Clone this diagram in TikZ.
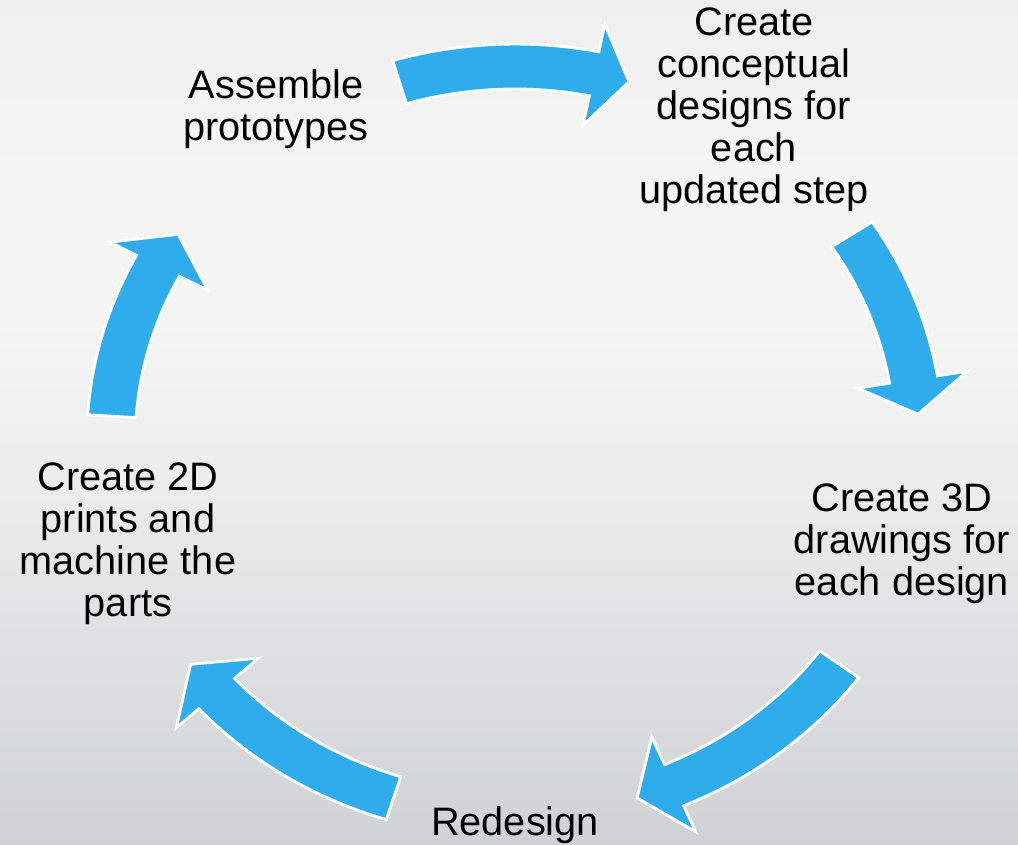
\documentclass[tikz,border=0pt]{standalone}
\usepackage{fontspec}
\setmainfont{Liberation Sans}
\usepackage{tikz}
\usepackage[dvipsnames]{xcolor}
\definecolor{arrowblue}{RGB}{47,172,235}
\definecolor{bgtop}{RGB}{239,239,239}
\definecolor{bglight}{RGB}{245,245,245}
\definecolor{bgmid}{RGB}{234,235,235}
\definecolor{bglow}{RGB}{220,222,223}
\definecolor{bgbottom}{RGB}{207,210,212}
\pgfdeclareverticalshading{slidebg}{100bp}{color(0bp)=(bgbottom); color(25bp)=(bgbottom); color(35bp)=(bglow); color(45bp)=(bgmid); color(56bp)=(bglight); color(65bp)=(bglight); color(75bp)=(bgtop); color(100bp)=(bgtop)}
\tikzset{steplabel/.style = {align=center, inner sep=0, font=\fontsize{22.6}{23.9}\selectfont}}
\tikzset{cyclearrow/.style = {fill=arrowblue, draw=white, line width=1.6pt, line join=miter}}

\begin{document}
\begin{tikzpicture}
        \useasboundingbox (-10.30,-8.06) rectangle (10.06,8.82);
        \shade [shading=slidebg] (-10.30,-8.06) rectangle (10.06,8.82);
        % curved arrows: tail / head base / tip angles
        \begin{scope}[xscale=8.08, yscale=7.49]
        \foreach \ta/\tb/\tc in {106.6/78.7/73.6, 33.5/9.45/4.1, -36.6/-66.8/-72.4, 252.5/222.4/216.6, 176.2/152.1/146.5}
            \filldraw [cyclearrow] ({\ta}:1.06) arc [start angle=\ta, end angle=\tb, radius=1.06]
                -- ({\tb}:1.135) -- ({\tc}:1) -- ({\tb}:0.86) -- ({\tb}:0.94)
                arc [start angle=\tb, end angle=\ta, radius=0.94] -- cycle;
        \end{scope}
        \node [steplabel] (assemble) at (-4.78,6.63) {Assemble\\prototypes};
        \node [steplabel] (concept) at (4.78,6.63) {Create\\conceptual\\designs for\\each\\updated step};
        \node [steplabel] (drawings) at (7.74,-2.05) {Create 3D\\drawings for\\each design};
        \node [steplabel] (redesign) at (0,-7.69) {Redesign};
        \node [steplabel] (prints) at (-7.74,-2.05) {Create 2D\\prints and\\machine the\\parts};
    \end{tikzpicture}
\end{document}
